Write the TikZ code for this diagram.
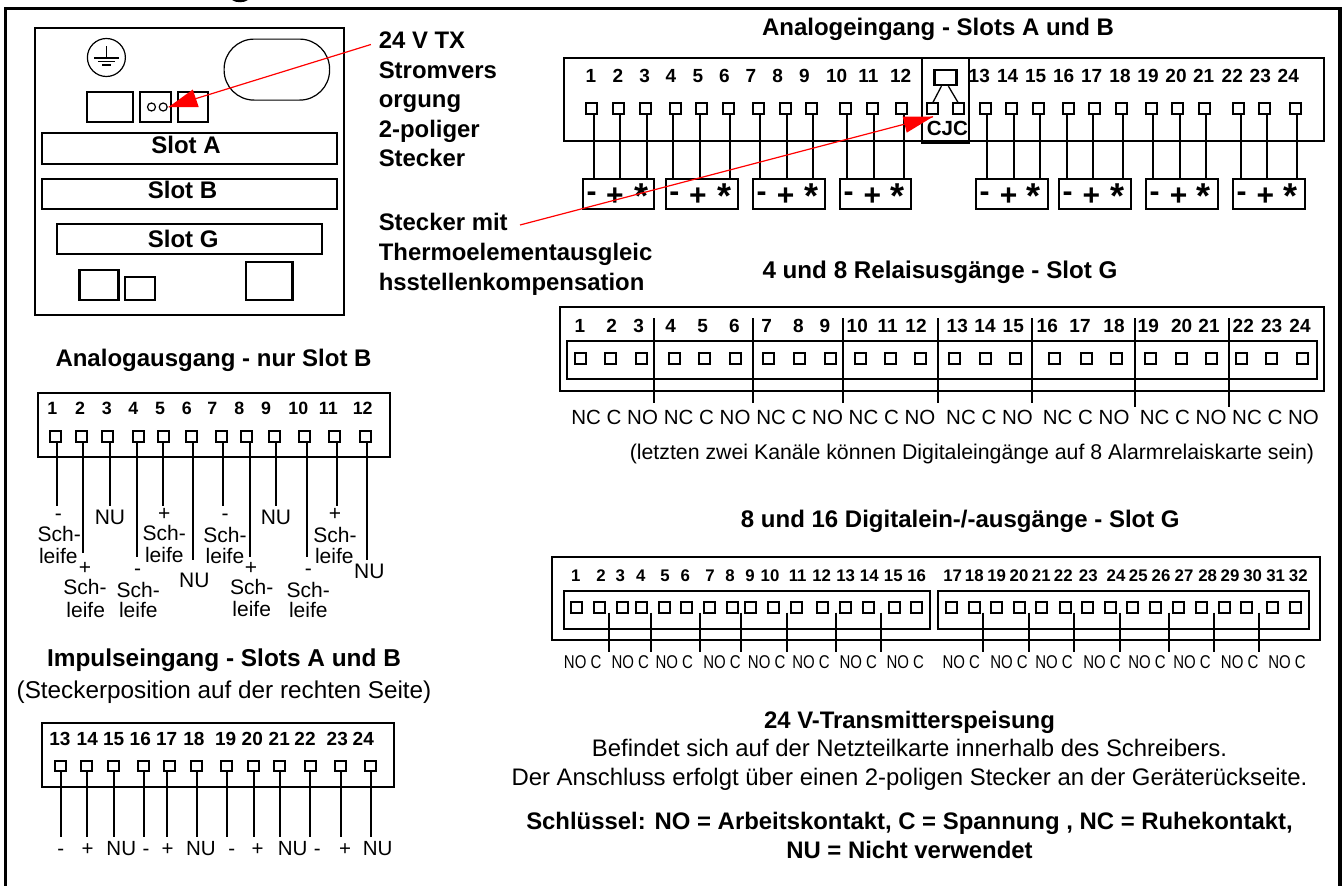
\documentclass[tikz,border=0pt]{standalone}
\usepackage{fontspec}
\usepackage{graphicx}
\setmainfont{Liberation Sans}
\newcommand{\fs}[1]{\fontsize{#1}{#1}\selectfont}
\newcommand{\bx}[5]{\node[bx,minimum width={(#4-#2)*1pt},minimum height={(#5-#3)*1pt}] (#1) at (#2,#3) {};}
\tikzset{
  bx/.style={draw=black,line width=2.2pt,rectangle,inner sep=0pt,outer sep=0pt,anchor=north west},
  term/.style={draw=black,line width=2pt,rectangle,inner sep=0pt,outer sep=0pt,minimum width=11pt,minimum height=10.5pt},
  wire/.style={draw=black,line width=2.2pt},
  thin line/.style={draw=black,line width=1.3pt},
  redline/.style={draw=red,line width=1.2pt},
  txt/.style={inner sep=0pt,outer sep=0pt,anchor=base,font=\fs{20.5}},
  btxt/.style={inner sep=0pt,outer sep=0pt,anchor=base,font=\fs{24}\bfseries},
  lefttxt/.style={inner sep=0pt,outer sep=0pt,anchor=base west,font=\fs{23.9}\bfseries},
  num/.style={inner sep=0pt,outer sep=0pt,anchor=base,font=\fs{19}\bfseries},
  numB/.style={inner sep=0pt,outer sep=0pt,anchor=base,font=\fs{17.8}\bfseries},
  numS/.style={inner sep=0pt,outer sep=0pt,anchor=base,font=\fs{16.8}\bfseries},
}
\begin{document}
\begin{tikzpicture}[x=1pt,y=-1pt]
\useasboundingbox (0,0) rectangle (1342,886);
\fill[white] (0,0) rectangle (1342,886);
% clipped heading descender and frame
\fill[black] (232,0) .. controls (236,3) and (244,3) .. (248,0) -- cycle;
\draw[black,line width=3.2pt] (5.5,886) -- (5.5,8.5) -- (1340,8.5) -- (1340,886);

% device panel
\bx{panel}{34.8}{28}{344.3}{315}
\node[draw=black,line width=1.2pt,circle,minimum size=38pt,inner sep=0pt] (earth) at (106.4,57.5) {};
\draw[thin line] (106.4,46) -- (106.4,58);
\draw[thin line] (94,58) -- (118.8,58);
\draw[thin line] (97.8,61.5) -- (115.4,61.5);
\draw[thin line] (102,65) -- (111,65);
\node[draw=black,line width=1.2pt,rectangle,rounded corners=30pt,minimum width=105.5pt,minimum height=61pt,inner sep=0pt,anchor=north west] (oval) at (223.5,38.5) {};
\bx{sockA}{86.8}{92}{133.3}{122}
\bx{sockB}{139.8}{92}{171}{122}
\bx{sockC}{177.7}{92}{208.3}{122}
\node[draw=black,line width=1.2pt,circle,minimum size=8pt,inner sep=0pt] (pinA) at (151.5,107) {};
\node[draw=black,line width=1.2pt,circle,minimum size=8pt,inner sep=0pt] (pinB) at (163.2,107) {};
\bx{slotA}{41.7}{133}{337.1}{164}
\bx{slotB}{41.7}{179}{337.1}{209}
\bx{slotG}{56.8}{224}{322.3}{254}
\node[btxt] (slotAt) at (186,153) {Slot A};
\node[btxt] (slotBt) at (182.5,198) {Slot B};
\node[btxt] (slotGt) at (183.2,247.5) {Slot G};
\bx{botA}{79.5}{270}{118.5}{300}
\bx{botB}{124.7}{277}{155.3}{300}
\bx{botC}{245.9}{262}{292.4}{300}

% callout text
\node[lefttxt] (l1) at (378.8,48.7) {24 V TX};
\node[lefttxt] (l2) at (378.8,78.2) {Stromvers};
\node[lefttxt] (l3) at (378.8,107.5) {orgung};
\node[lefttxt] (l4) at (378.8,137) {2-poliger};
\node[lefttxt] (l5) at (378.8,166.7) {Stecker};
\node[lefttxt] (m1) at (378.8,230.7) {Stecker mit};
\node[lefttxt] (m2) at (378.8,260) {Thermoelementausgleic};
\node[lefttxt] (m3) at (378.8,290) {hsstellenkompensation};

% Analogeingang
\node[btxt] (tAE) at (938,35.7) {Analogeingang - Slots A und B};
\bx{boxAE}{564}{57.9}{1323.7}{141}
\foreach \n/\x in {1/591,2/618,3/644.7,4/671,5/698,6/724.3,7/751,8/777.7,9/804.3,10/836.7,11/868.3,12/900.7,13/979.3,14/1007.7,15/1035.7,16/1063.7,17/1091.7,18/1120,19/1148,20/1176,21/1203.7,22/1232.3,23/1260.3,24/1288.3}
  \node[num] (ae\n) at (\x,82.8) {\n};
\bx{plugA}{582.7}{179}{654.3}{209}
\bx{plugB}{665.7}{179}{738.3}{209}
\bx{plugC}{752.7}{179}{825.3}{209}
\bx{plugD}{839.7}{179}{911.3}{209}
\bx{plugE}{976}{179}{1048}{209}
\bx{plugF}{1058.7}{179}{1131}{209}
\bx{plugG}{1145.7}{179}{1218}{209}
\bx{plugH}{1232.7}{179}{1305}{209}
\foreach \n/\t/\w in {1/591.7/593.7,2/618.3/620,3/645/646.7,4/675.3/673,5/701.7/700,6/728/730,7/758.3/760,8/785/787.3,9/811.7/813,10/845.3/847,11/872/873.7,12/901.7/903.7,13/985.7/987,14/1011.7/1014,15/1038/1040,16/1068.3/1066.7,17/1094.3/1092.7,18/1121.3/1122.7,19/1151.3/1153,20/1177.7/1180,21/1204.3/1205.7,22/1238.3/1241,23/1264.7/1267,24/1295.3/1297}{
  \node[term] (aT\n) at (\t,108.5) {};
  \coordinate (aW\n) at (\w,179);
  \draw[wire] (aT\n.south -| aW\n) -- (aW\n);
}
\foreach \n/\m/\p/\s in {a/591.7/615/641,b/674.3/698/724,c/761.7/785.7/811,d/848.7/872.3/897.7,e/984.7/1008.7/1033.7,f/1067.7/1091.3/1117,g/1154.7/1178.7/1203.7,h/1241.7/1265.3/1290.7}{
  \node[inner sep=0pt,anchor=base,font=\fs{30}\bfseries] (pm\n) at (\m,201) {-};
  \node[inner sep=0pt,anchor=base,font=\fs{30}\bfseries] (pp\n) at (\p,205) {+};
  \node[inner sep=0pt,anchor=base,font=\fs{36}\bfseries] (ps\n) at (\s,208) {*};
}
% CJC
\node[draw=black,line width=2.2pt,rectangle,inner sep=0pt,anchor=north west,minimum width=47pt,minimum height=85pt] (cjc) at (921,56.7) {};
\node[draw=black,line width=2.2pt,rectangle,inner sep=0pt,anchor=north west,minimum width=22pt,minimum height=15pt] (cjcS) at (933.3,69) {};
\node[term] (cjcA) at (932.5,108.5) {};
\node[term] (cjcB) at (958.5,108.5) {};
\draw[thin line] ([xshift=-4pt]cjcS.south) -- (cjcA.north);
\draw[thin line] ([xshift=3pt]cjcS.south) -- (cjcB.north);
\node[inner sep=0pt,anchor=base,font=\fs{20.5}\bfseries] (cjcT) at (947.3,135.5) {CJC};

% Relais
\node[btxt,font=\fs{24.2}\bfseries] (tRE) at (940,278) {4 und 8 Relaisusgänge - Slot G};
\bx{boxRE}{560}{306.7}{1324}{390.7}
\bx{inRE}{567.3}{340.7}{1316.7}{379}
\foreach \n/\x in {1/580,2/611.7,3/638.7,4/670.7,5/702.7,6/734.3,7/766.7,8/798.3,9/825,10/857.3,11/887.7,12/916,13/957.3,14/985,15/1013.3,16/1047.3,17/1080,18/1114,19/1148.3,20/1181.7,21/1209,22/1243.3,23/1271.7,24/1300}
  \node[num] (re\n) at (\x,332.5) {\n};
\foreach \n/\x in {1/580,2/610,3/641,4/674.3,5/704.3,6/735,7/768.3,8/799.3,9/830,10/860.7,11/890.7,12/920.7,13/954,14/985,15/1015,16/1054,17/1086,18/1116.7,19/1150,20/1181,21/1211.7,22/1241.7,23/1271.7,24/1302.3}
  \node[term] (rT\n) at (\x,358.7) {};
\foreach \n/\x/\b in {a/654/402.7,b/753/402.7,c/843/402.7,d/938/402.7,e/1031.7/402.7,f/1135/406.7,g/1229/406.7}{
  \coordinate (rL\n) at (\x,318);
  \coordinate (rB\n) at (\x,\b);
  \draw[wire] (rL\n) -- (rB\n);
}
\foreach \n/\x in {a/614.7,b/707.2,c/799.7,d/892,e/989.5,f/1086.2,g/1183.2,h/1275.5}
  \node[txt] (rn\n) at (\x,424) {NC C NO};
\node[inner sep=0pt,anchor=base,font=\fs{21.3}] (rnote) at (972,459.5) {(letzten zwei Kanäle können Digitaleingänge auf 8 Alarmrelaiskarte sein)};

% Digital
\node[btxt] (tDI) at (960.3,527.3) {8 und 16 Digitalein-/-ausgänge - Slot G};
\bx{boxDI}{552}{556.7}{1320}{640}
\bx{inDIa}{564}{590.7}{930}{629}
\bx{inDIb}{937.7}{590.7}{1309.3}{629}
\foreach \n/\x in {1/575.7,2/601,3/620.3,4/640.7,5/665,6/685.3,7/710,8/730,9/750,10/770,11/797.7,12/821.7,13/845.7,14/869.3,15/893.3,16/916.7,17/952.7,18/974.3,19/996.7,20/1019,21/1041.3,22/1063.3,23/1088.3,24/1116,25/1138.3,26/1161,27/1184,28/1207.7,29/1230,30/1252.7,31/1275.7,32/1298.3}
  \node[numS] (di\n) at (\x,581) {\n};
\foreach \n/\x in {1/576.7,2/599.3,3/622.3,4/641,5/664,6/686.7,7/709.7,8/732,9/750.7,10/773.3,11/796,12/822.7,13/845.7,14/868.3,15/894.3,16/916.7,17/951.7,18/974,19/996.7,20/1019,21/1041.7,22/1065,23/1087.3,24/1110,25/1132.7,26/1155.7,27/1178.3,28/1201,29/1224,30/1246.7,31/1272.3,32/1295.7}
  \node[term] (dT\n) at (\x,607.7) {};
\foreach \n/\x in {a/609,b/650.7,c/700,d/741,e/787,f/835.7,g/881,h/983,i/1029,j/1074,k/1120,l/1169,m/1214,n/1259}{
  \coordinate (dL\n) at (\x,612.7);
  \coordinate (dB\n) at (\x,651.7);
  \draw[wire] (dL\n) -- (dB\n);
}
\foreach \n/\x in {a/582.7,b/630.3,c/674.3,d/722,e/766.7,f/811,g/858.3,h/905.3,i/961.3,j/1009,k/1054,l/1102,m/1147,n/1192,o/1239.7,p/1287}
  \node[inner sep=0pt,anchor=base] (dn\n) at (\x,668) {\fs{18.5}\scalebox{0.81}[1]{NO C}};

% 24 V text
\node[btxt,font=\fs{23.9}\bfseries] (t24) at (909.5,728) {24 V-Transmitterspeisung};
\node[txt,font=\fs{23.9}] (t24a) at (909.5,756.5) {Befindet sich auf der Netzteilkarte innerhalb des Schreibers.};
\node[txt,font=\fs{23.9}] (t24b) at (909.5,785.5) {Der Anschluss erfolgt über einen 2-poligen Stecker an der Geräterückseite.};
\node[btxt,font=\fs{23.9}\bfseries] (key1) at (909.5,829) {Schlüssel: NO = Arbeitskontakt, C = Spannung , NC = Ruhekontakt,};
\node[btxt,font=\fs{23.9}\bfseries] (key2) at (909.5,858) {NU = Nicht verwendet};

% Analogausgang
\node[btxt] (tAA) at (213.5,366) {Analogausgang - nur Slot B};
\bx{boxAA}{37.7}{392.7}{390}{457.3}
\foreach \n/\x in {1/52.3,2/80,3/106.7,4/133.3,5/160,6/186.7,7/212.3,8/239.3,9/266,10/298.3,11/328.3,12/362.7}
  \node[numB] (aa\n) at (\x,414) {\n};
\foreach \n/\t/\w/\b in {1/55.7/56.7/506,2/81.7/83.3/553.3,3/107.7/110/506,4/138.7/136.7/556.7,5/163.3/163/506,6/191/193/560,7/221/223.3/506,8/246.7/250/556.7,9/274/276/506,10/304.3/306.7/556.7,11/334.3/336.7/506,12/365.7/366.7/560}{
  \node[term] (oT\n) at (\t,436.7) {};
  \coordinate (oW\n) at (\w,\b);
  \draw[wire] (oT\n.south -| oW\n) -- (oW\n);
}
\foreach \n/\x/\y/\s in {a/58.3/520.5/-,b/59.3/541/Sch-,c/58.3/563/leife,d/85/574/+,e/85/594/Sch-,f/85.7/617/leife,g/110/524/NU,h/137.7/575/-,i/138.3/597/Sch-,j/138.3/617/leife,k/164.3/520/+,l/164.3/540/Sch-,m/164.3/562/leife,n/194.3/587/NU,o/225/520.5/-,p/225/542/Sch-,q/225/563/leife,r/251/574/+,s/251.7/594/Sch-,t/251.7/616/leife,u/276/524/NU,v/308.3/575/-,w/308.3/597/Sch-,x/308.3/617/leife,y/335/520/+,z/335/542/Sch-,A/334.3/563/leife,B/369.3/578/NU}
  \node[txt,font=\fs{21}] (aaL\n) at (\x,\y) {\s};

% Impulseingang
\node[btxt,font=\fs{24.4}\bfseries] (tIM) at (224,666) {Impulseingang - Slots A und B};
\node[txt,font=\fs{24.3}] (tIM2) at (224,698) {(Steckerposition auf der rechten Seite)};
\bx{boxIM}{41.7}{722.7}{394.3}{787.3}
\foreach \n/\x in {13/60,14/87.3,15/113.7,16/140.3,17/166.7,18/194,19/225.7,20/252.3,21/279.3,22/305,23/337.3,24/363.3}
  \node[num] (im\n) at (\x,745) {\n};
\foreach \n/\t/\w in {13/60/61,14/86.7/87,15/113.3/114,16/143.3/144,17/169.7/166.7,18/196.7/196.7,19/226.7/227,20/253.3/254,21/279.3/279.7,22/310/309.7,23/340/341,24/370.7/370.7}{
  \node[term] (iT\n) at (\t,766) {};
  \coordinate (iW\n) at (\w,836.7);
  \draw[wire] (iT\n.south -| iW\n) -- (iW\n);
}
\foreach \n/\x/\s in {a/60.7/-,b/87.7/+,c/121.3/NU,d/146/-,e/167.7/+,f/201/NU,g/231.7/-,h/257.7/+,i/292.7/NU,j/317.3/-,k/345/+,l/377.7/NU}
  \node[txt] (iL\n) at (\x,855.5) {\s};

% red callouts
\coordinate (ra1) at (370.9,44.5);
\coordinate (ra2) at (168.7,107);
\coordinate (ra3) at (192.8,89.5);
\coordinate (ra4) at (198.7,107);
\draw[redline] (ra1) -- (ra2);
\fill[red] (ra2) -- (ra3) -- (ra4) -- cycle;
\coordinate (rb1) at (520,225);
\coordinate (rb2) at (933,116.7);
\coordinate (rb3) at (902.7,116.7);
\coordinate (rb4) at (906.7,132.7);
\draw[redline] (rb1) -- (rb2);
\fill[red] (rb2) -- (rb3) -- (rb4) -- cycle;
\end{tikzpicture}
\end{document}
